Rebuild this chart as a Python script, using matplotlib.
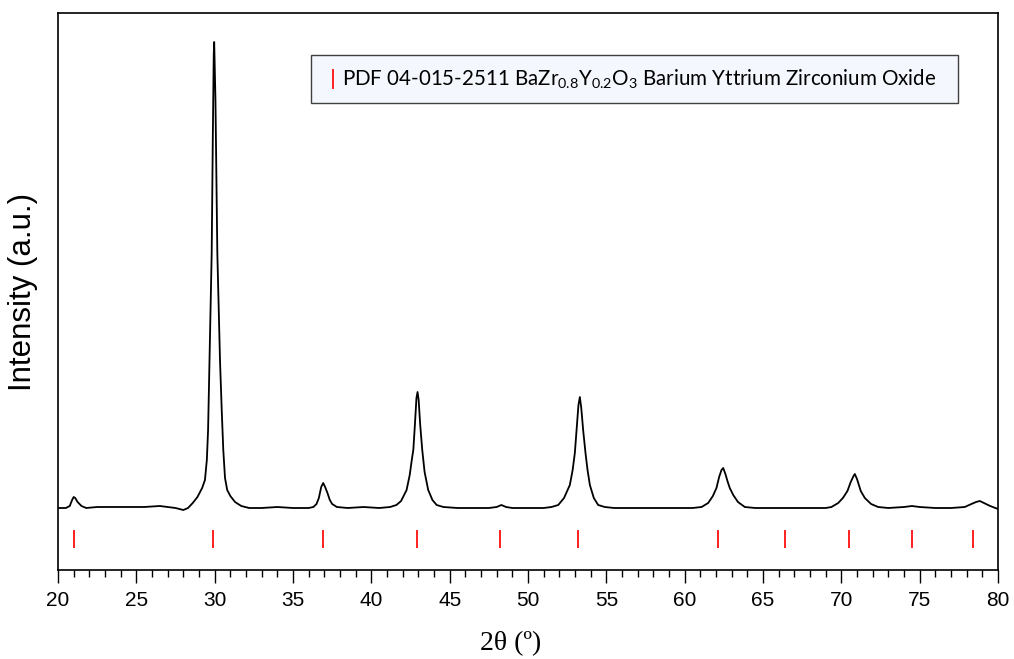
import matplotlib
matplotlib.use("Agg")
import matplotlib.pyplot as plt
from matplotlib.lines import Line2D
from matplotlib.patches import Rectangle
from matplotlib.ticker import MultipleLocator

plt.rcParams['mathtext.fontset'] = 'custom'
plt.rcParams['mathtext.rm'] = 'Lato'
plt.rcParams['mathtext.it'] = 'Lato'

two_theta = [20.0, 20.5, 20.75, 20.9, 21.0, 21.1, 21.25, 21.5, 21.8, 22.5,
             23.5, 24.5, 25.5, 26.5, 27.0, 27.5, 28.0, 28.3, 28.6, 28.9,
             29.2, 29.38, 29.5, 29.58, 29.66, 29.74, 29.81, 29.88, 29.94, 29.97,
             30.0, 30.05, 30.11, 30.17, 30.25, 30.34, 30.45, 30.55, 30.66, 30.8,
             31.0, 31.3, 31.7, 32.2, 33.0, 34.0, 35.0, 36.0, 36.3, 36.5,
             36.65, 36.8, 36.93, 37.05, 37.2, 37.35, 37.5, 37.8, 38.5, 39.5,
             40.5, 41.2, 41.6, 41.9, 42.25, 42.45, 42.6, 42.68, 42.78, 42.88,
             42.95, 43.02, 43.12, 43.25, 43.4, 43.63, 43.9, 44.17, 44.6, 45.5,
             46.5, 47.5, 48.0, 48.3, 48.6, 49.0, 50.0, 51.0, 51.5, 51.93,
             52.3, 52.67, 52.85, 52.99, 53.1, 53.22, 53.31, 53.4, 53.52, 53.67,
             53.8, 53.95, 54.2, 54.48, 54.9, 55.5, 56.5, 57.5, 58.5, 59.5,
             60.5, 61.08, 61.5, 61.8, 62.03, 62.2, 62.35, 62.46, 62.6, 62.75,
             62.88, 63.1, 63.4, 63.84, 64.5, 65.5, 66.5, 67.5, 68.5, 69.0,
             69.37, 69.8, 70.1, 70.39, 70.6, 70.78, 70.86, 71.0, 71.24, 71.5,
             71.9, 72.35, 73.0, 74.0, 74.5, 75.0, 76.0, 77.0, 77.88, 78.3,
             78.6, 78.84, 79.1, 79.5, 80.0]
intensity = [62, 62, 64, 70, 73, 72, 68, 64, 62, 63,
             63, 63, 63, 64, 63, 62, 60, 62, 67, 73,
             82, 90, 110, 140, 200, 260, 317, 430, 515, 528,
             505, 470, 390, 317, 265, 210, 160, 120, 92, 80,
             74, 68, 64, 62, 62, 63, 62, 62, 63, 66,
             72, 83, 87, 83, 77, 70, 66, 63, 62, 63,
             62, 63, 65, 69, 80, 95, 112, 120, 145, 172,
             178, 170, 145, 120, 98, 80, 70, 65, 63, 62,
             62, 62, 63, 65, 63, 62, 62, 62, 63, 65,
             72, 85, 100, 117, 140, 165, 173, 162, 140, 117,
             100, 85, 72, 65, 63, 62, 62, 62, 62, 62,
             62, 63, 67, 74, 82, 93, 100, 102, 96, 88,
             82, 75, 68, 63, 62, 62, 62, 62, 62, 62,
             63, 67, 72, 79, 88, 94, 96, 91, 79, 72,
             66, 63, 62, 63, 64, 63, 62, 62, 63, 66,
             68, 69, 67, 64, 61]

# reference pattern PDF 04-015-2511 peak positions
ref_positions = [21.0, 29.9, 36.9, 42.9, 48.2, 53.2, 62.1, 66.4, 70.5, 74.5, 78.4]

fig = plt.figure(figsize=(10.14, 6.59), dpi=100)
ax = fig.add_axes([58 / 1014, 89 / 659, 940 / 1014, 557 / 659])

ax.plot(two_theta, intensity, color='black', lw=1.3)
ax.vlines(ref_positions, 22, 40, color='#ff2020', lw=1.4)

ax.set_xlim(20, 80)
ax.set_ylim(0, 557)
ax.xaxis.set_major_locator(MultipleLocator(5))
ax.xaxis.set_minor_locator(MultipleLocator(1))
ax.tick_params(axis='x', which='major', direction='out', length=9, width=1,
               labelsize=15, pad=6)
ax.tick_params(axis='x', which='minor', direction='out', length=5, width=1)
ax.set_yticks([])
for lab in ax.get_xticklabels():
    lab.set_fontfamily('Liberation Sans')
for sp in ax.spines.values():
    sp.set_linewidth(1.2)

ax.set_ylabel('Intensity (a.u.)', fontsize=22.5, family='Liberation Sans')
ax.yaxis.set_label_coords(-0.021, 0.5)
ax.set_xlabel('2\u03b8 (\u00ba)', fontsize=20, family='Liberation Serif')
ax.xaxis.set_label_coords(0.482, -0.11)

# legend box for the reference card
fig.add_artist(Rectangle((311 / 1014, 1 - 103 / 659), 647 / 1014, 48 / 659,
                         transform=fig.transFigure, facecolor='#f4f7fd',
                         edgecolor='#404040', lw=1))
fig.add_artist(Line2D([333 / 1014, 333 / 1014], [1 - 88 / 659, 1 - 70 / 659],
                      transform=fig.transFigure, color='#ff2020', lw=1.4))
fig.text(342 / 1014, 1 - 79 / 659,
         r'PDF 04-015-2511 BaZr$_{0.8}$Y$_{0.2}$O$_{3}$ Barium Yttrium Zirconium Oxide',
         fontsize=14.8, family='Lato', va='center', ha='left')

fig.savefig('out.png', dpi=100)
